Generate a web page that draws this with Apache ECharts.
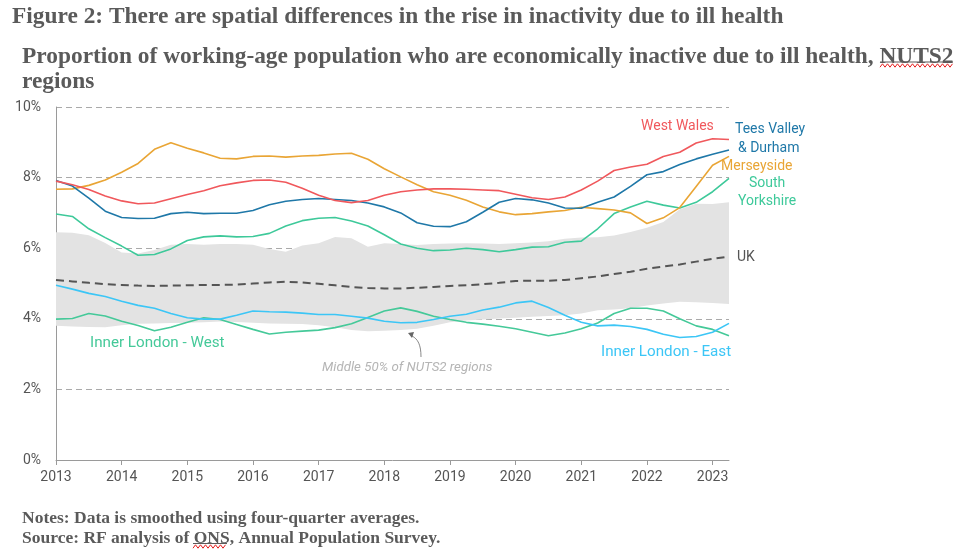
<!DOCTYPE html>
<html><head><meta charset="utf-8">
<script src="https://cdn.jsdelivr.net/npm/echarts@6/dist/echarts.min.js"></script>
<style>html,body{margin:0;padding:0;background:#fff}#c{width:960px;height:553px}</style>
</head><body><div id="c"></div>
<script>
// Quarterly categories 2013 Q1 .. 2023 Q2
var quarters = [];
for (var yr = 2013; yr <= 2023; yr++) { for (var q = 1; q <= 4; q++) { if (yr === 2023 && q > 2) break; quarters.push(yr + ' Q' + q); } }

var yTicks = ['0%', '2%', '4%', '6%', '8%', '10%'];

var westWales = [7.9,7.8,7.66,7.48,7.34,7.26,7.28,7.4,7.52,7.63,7.77,7.85,7.92,7.93,7.87,7.7,7.5,7.35,7.29,7.35,7.5,7.6,7.65,7.68,7.68,7.67,7.65,7.63,7.53,7.43,7.38,7.45,7.65,7.9,8.2,8.3,8.38,8.6,8.72,8.98,9.1,9.08];
var teesValley = [7.92,7.76,7.42,7.05,6.87,6.84,6.85,6.98,7.02,6.98,6.99,6.99,7.07,7.23,7.33,7.38,7.41,7.38,7.35,7.28,7.17,7.0,6.72,6.62,6.61,6.75,7.02,7.3,7.41,7.37,7.28,7.14,7.13,7.3,7.45,7.75,8.08,8.17,8.37,8.53,8.66,8.78];
var merseyside = [7.67,7.68,7.78,7.93,8.15,8.4,8.8,8.99,8.83,8.7,8.55,8.53,8.6,8.61,8.58,8.61,8.63,8.67,8.69,8.52,8.25,8.02,7.8,7.6,7.5,7.36,7.17,7.03,6.95,6.98,7.03,7.07,7.16,7.12,7.08,7.0,6.7,6.86,7.15,7.75,8.35,8.6];
var southYorkshire = [6.97,6.9,6.55,6.3,6.06,5.8,5.82,5.98,6.22,6.32,6.35,6.32,6.33,6.42,6.63,6.78,6.85,6.87,6.77,6.63,6.38,6.12,6.0,5.93,5.95,6.0,5.96,5.9,5.96,6.03,6.04,6.17,6.2,6.55,6.98,7.17,7.33,7.22,7.14,7.3,7.6,7.98];
var uk = [5.1,5.06,5.02,4.98,4.96,4.94,4.93,4.94,4.95,4.96,4.96,4.97,5.0,5.03,5.05,5.03,4.99,4.95,4.9,4.87,4.86,4.86,4.88,4.9,4.93,4.95,4.98,5.02,5.07,5.08,5.08,5.1,5.15,5.2,5.27,5.33,5.42,5.48,5.54,5.62,5.7,5.76];
var innerLondonEast = [4.95,4.84,4.72,4.63,4.5,4.38,4.3,4.15,4.03,3.99,3.99,4.1,4.22,4.2,4.19,4.16,4.12,4.12,4.07,4.02,3.93,3.89,3.9,3.98,4.07,4.13,4.25,4.33,4.45,4.5,4.32,4.1,3.9,3.8,3.82,3.78,3.7,3.56,3.47,3.5,3.62,3.87];
var innerLondonWest = [3.99,4.01,4.15,4.08,3.93,3.81,3.66,3.76,3.9,4.03,3.98,3.84,3.7,3.57,3.62,3.65,3.68,3.75,3.86,4.04,4.22,4.31,4.21,4.07,3.98,3.9,3.85,3.79,3.72,3.62,3.52,3.6,3.72,3.88,4.15,4.3,4.3,4.22,4.0,3.8,3.7,3.52];
var bandUpper = [6.45,6.44,6.37,6.15,5.88,5.85,5.95,6.1,6.12,6.1,6.12,6.12,6.1,5.98,5.9,6.08,6.14,6.32,6.28,6.04,6.14,6.12,6.09,6.12,6.13,6.14,6.13,6.12,6.14,6.16,6.2,6.27,6.3,6.31,6.36,6.46,6.58,6.74,7.1,7.26,7.25,7.3];
var bandLower = [3.8,3.78,3.77,3.76,3.82,3.86,3.87,3.88,3.89,3.9,3.92,3.91,3.89,3.87,3.86,3.85,3.82,3.76,3.68,3.65,3.66,3.68,3.72,3.8,3.9,3.95,3.98,4.01,4.03,4.06,4.08,4.1,4.15,4.24,4.26,4.3,4.38,4.43,4.48,4.47,4.45,4.42];

var bandWidth = bandUpper.map(function (v, i) { return +(v - bandLower[i]).toFixed(3); });

var C = {
  ww: '#f0585c', tv: '#1f78a8', ms: '#e9a535', sy: '#3ec99a', ile: '#3cc6f6', ilw: '#45c999', uk: '#555555'
};
var sans = 'Roboto, "Noto Sans", sans-serif';
var serif = '"Liberation Serif", "DejaVu Serif", serif';

function lineSeries(name, data, color, dashed) {
  return {
    name: name, type: 'line', data: data, symbol: 'none', smooth: false, z: 5,
    lineStyle: { color: color, width: dashed ? 2 : 1.6, type: dashed ? [8, 5] : 'solid' }
  };
}

function wavy(x0, x1, y) {
  var pts = [], step = 2.5, k = 0;
  for (var x = x0; x <= x1; x += step) { pts.push([x, y + (k % 2 ? -1.7 : 1.7)]); k++; }
  return { type: 'polyline', shape: { points: pts }, style: { stroke: '#e42020', lineWidth: 1, fill: null }, z: 20 };
}
function underline(x0, x1, y) {
  return { type: 'line', shape: { x1: x0, y1: y, x2: x1, y2: y }, style: { stroke: '#5a5a5a', lineWidth: 1.2 }, z: 20 };
}

function label(text, x, y, color, opts) {
  opts = opts || {};
  return {
    type: 'text', x: x, y: y, z: 20,
    style: {
      text: text, fill: color, font: (opts.italic ? 'italic ' : '') + (opts.size || 14) + 'px ' + sans,
      textAlign: opts.align || 'left', textVerticalAlign: 'middle'
    }
  };
}

var chart = echarts.init(document.getElementById('c'), null, { renderer: 'canvas' });
chart.setOption({
  animation: false,
  grid: { left: 56, right: 231, top: 107, bottom: 93, containLabel: false },
  xAxis: {
    type: 'category', data: quarters, boundaryGap: false,
    axisLine: { lineStyle: { color: '#9a9a9a', width: 1 } },
    axisTick: { show: true, length: 5, interval: function (i) { return i % 4 === 0; }, lineStyle: { color: '#9a9a9a' } },
    axisLabel: { interval: function (i) { return i % 4 === 0; }, formatter: function (v) { return v.slice(0, 4); },
      color: '#555', fontSize: 14, fontFamily: sans, margin: 10 },
    splitLine: { show: false }
  },
  yAxis: {
    type: 'value', min: 0, max: 10, interval: 2,
    axisLine: { show: true, lineStyle: { color: '#9a9a9a', width: 1 } },
    axisTick: { show: false },
    axisLabel: { formatter: function (v) { return yTicks[v / 2]; }, color: '#555', fontSize: 14, fontFamily: sans, margin: 15 },
    splitLine: { show: true, lineStyle: { color: '#aaaaaa', type: [6, 4], width: 1.2 } }
  },
  series: [
    { name: 'bandLower', type: 'line', stack: 'band', data: bandLower, symbol: 'none', lineStyle: { opacity: 0 }, z: 1, silent: true },
    { name: 'Middle 50%', type: 'line', stack: 'band', data: bandWidth, symbol: 'none', lineStyle: { opacity: 0 },
      areaStyle: { color: '#e3e3e3', opacity: 1 }, z: 1, silent: true },
    lineSeries('UK', uk, C.uk, true),
    lineSeries('Inner London - West', innerLondonWest, C.ilw),
    lineSeries('Inner London - East', innerLondonEast, C.ile),
    lineSeries('South Yorkshire', southYorkshire, C.sy),
    lineSeries('Merseyside', merseyside, C.ms),
    lineSeries('Tees Valley & Durham', teesValley, C.tv),
    lineSeries('West Wales', westWales, C.ww)
  ],
  graphic: [
    { type: 'text', x: 12, y: 17, style: { text: 'Figure 2: There are spatial differences in the rise in inactivity due to ill health', fill: '#5a5a5a', font: 'bold 23.4px ' + serif, textVerticalAlign: 'middle' } },
    { type: 'text', x: 22, y: 57, style: { text: 'Proportion of working-age population who are economically inactive due to ill health, NUTS2', fill: '#5a5a5a', font: 'bold 23.4px ' + serif, textVerticalAlign: 'middle' } },
    { type: 'text', x: 22, y: 82, style: { text: 'regions', fill: '#5a5a5a', font: 'bold 23.4px ' + serif, textVerticalAlign: 'middle' } },
    underline(880, 953, 62),
    wavy(880, 953, 65.5),
    { type: 'text', x: 22, y: 518, style: { text: 'Notes: Data is smoothed using four-quarter averages.', fill: '#5a5a5a', font: 'bold 17.5px ' + serif, textVerticalAlign: 'middle' } },
    { type: 'text', x: 22, y: 538, style: { text: 'Source: RF analysis of ONS, Annual Population Survey.', fill: '#5a5a5a', font: 'bold 17.5px ' + serif, textVerticalAlign: 'middle' } },
    underline(193, 227, 543.5),
    wavy(193, 227, 546.5),
    label('West Wales', 641, 126, C.ww),
    label('Tees Valley', 735, 129, C.tv),
    label('& Durham', 738, 148, C.tv),
    label('Merseyside', 721, 166, C.ms),
    label('South', 749, 183, C.sy),
    label('Yorkshire', 738, 201, C.sy),
    label('UK', 737, 257, '#555'),
    label('Inner London - West', 90, 343, C.ilw, { size: 15.2 }),
    label('Inner London - East', 601, 352, C.ile, { size: 15.2 }),
    label('Middle 50% of NUTS2 regions', 322, 368, '#b5b5b5', { italic: true, size: 13.3 }),
    { type: 'bezierCurve', z: 20, shape: { x1: 421, y1: 357, x2: 412, y2: 336, cpx1: 421, cpy1: 345, cpx2: 418, cpy2: 339 }, style: { stroke: '#888', lineWidth: 1, fill: null } },
    { type: 'polygon', z: 20, shape: { points: [[408, 333], [414, 332], [412, 338]] }, style: { fill: '#666' } }
  ]
});
</script></body></html>
